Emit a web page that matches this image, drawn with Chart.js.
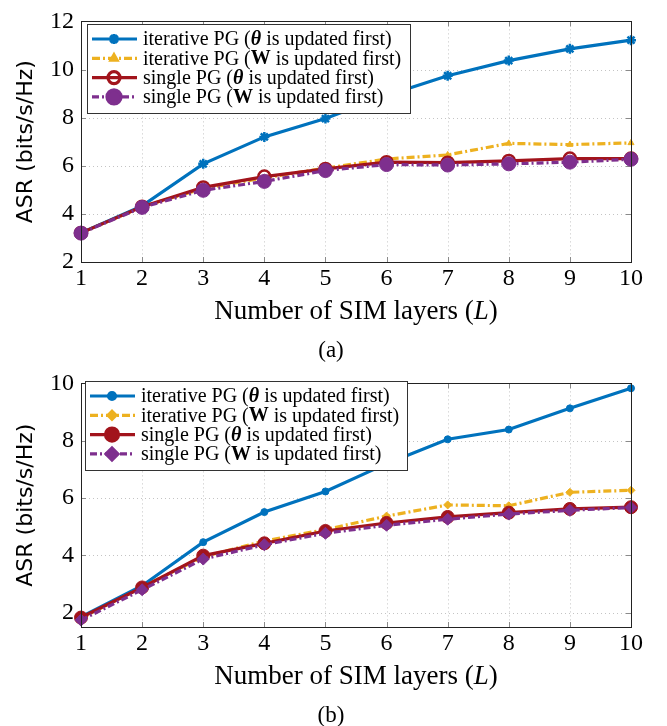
<!DOCTYPE html>
<html>
<head>
<meta charset="utf-8">
<script src="https://cdn.jsdelivr.net/npm/chart.js@4"></script>
<style>
  body { margin: 0; background: #fff; width: 667px; height: 726px; overflow: hidden; }
  .panel { position: absolute; left: 0; }
</style>
</head>
<body>
<div class="panel" style="top:0"><canvas id="chartA" width="667" height="362"></canvas></div>
<div class="panel" style="top:362px"><canvas id="chartB" width="667" height="364"></canvas></div>
<script>
// Data
const layers = ['1', '2', '3', '4', '5', '6', '7', '8', '9', '10'];
const seriesNames = [
  'iterative PG (θ is updated first)',
  'iterative PG (W is updated first)',
  'single PG (θ is updated first)',
  'single PG (W is updated first)'
];

// (a)
const yTicksA = [2, 4, 6, 8, 10, 12];
const iterThetaA = [3.21, 4.33, 6.08, 7.2, 7.96, 8.92, 9.74, 10.37, 10.86, 11.22];
const iterWA = [3.21, 4.3, 5.05, 5.5, 5.9, 6.28, 6.45, 6.93, 6.88, 6.95];
const singleThetaA = [3.21, 4.3, 5.1, 5.55, 5.87, 6.15, 6.13, 6.2, 6.3, 6.3];
const singleWA = [3.2, 4.27, 4.98, 5.35, 5.8, 6.05, 6.03, 6.08, 6.15, 6.27];

// (b)
const yTicksB = [2, 4, 6, 8, 10];
const iterThetaB = [1.85, 2.94, 4.46, 5.51, 6.23, 7.2, 8.05, 8.39, 9.13, 9.83];
const iterWB = [1.8, 2.9, 3.95, 4.5, 4.9, 5.37, 5.76, 5.73, 6.2, 6.27];
const singleThetaB = [1.83, 2.88, 3.99, 4.42, 4.85, 5.13, 5.34, 5.49, 5.62, 5.68];
const singleWB = [1.74, 2.8, 3.87, 4.37, 4.77, 5.05, 5.26, 5.44, 5.57, 5.67];

const colors = ['#0072BD', '#EDB120', '#A2141C', '#7E2F8E'];
const dashes = [[], [8, 3, 2, 3], [], [7, 3, 2, 3]];
const drawOrder = [2, 3, 1, 0];

const SERIF = '"Liberation Serif", "Times New Roman", serif';

const markersA = [
  { style: 'star', r: 5, bw: 2.5, fill: true },
  { style: 'triangle', r: 3.5, bw: 1, fill: true },
  { style: 'circle', r: 6, bw: 2.5, fill: false },
  { style: 'circle', r: 7, bw: 1, fill: true }
];
const markersB = [
  { style: 'circle', r: 3.5, bw: 1, fill: true },
  { style: 'rectRot', r: 4, bw: 1, fill: true },
  { style: 'circle', r: 6.5, bw: 1, fill: true },
  { style: 'rectRot', r: 6, bw: 1, fill: true }
];

function buildDatasets(series, markers) {
  return series.map((vals, i) => ({
    label: seriesNames[i],
    data: vals,
    borderColor: colors[i],
    backgroundColor: colors[i],
    borderWidth: 3.2,
    borderDash: dashes[i],
    pointStyle: markers[i].style,
    pointRadius: markers[i].r,
    pointBorderWidth: markers[i].bw,
    pointBackgroundColor: markers[i].fill ? colors[i] : 'rgba(0,0,0,0)',
    pointBorderColor: colors[i],
    order: drawOrder[i],
    tension: 0
  }));
}

// grid, box, legend, axis titles, caption
const figurePlugin = {
  id: 'figure',
  beforeDatasetsDraw(chart) {
    const { ctx, chartArea: a, scales: { x, y } } = chart;
    ctx.save();
    ctx.lineWidth = 1;
    ctx.strokeStyle = '#c4c4c4';
    ctx.setLineDash([1, 3]);
    y.ticks.forEach(t => {
      const py = Math.round(y.getPixelForValue(t.value)) + 0.5;
      ctx.beginPath(); ctx.moveTo(a.left, py); ctx.lineTo(a.right, py); ctx.stroke();
    });
    x.ticks.forEach((t, i) => {
      const px = Math.round(x.getPixelForTick(i)) + 0.5;
      ctx.beginPath(); ctx.moveTo(px, a.top); ctx.lineTo(px, a.bottom); ctx.stroke();
    });
    ctx.setLineDash([]);
    ctx.strokeStyle = '#8a8a8a';
    y.ticks.forEach(t => {
      const py = Math.round(y.getPixelForValue(t.value)) + 0.5;
      ctx.beginPath(); ctx.moveTo(a.left, py); ctx.lineTo(a.left + 5, py); ctx.stroke();
      ctx.beginPath(); ctx.moveTo(a.right - 5, py); ctx.lineTo(a.right, py); ctx.stroke();
    });
    x.ticks.forEach((t, i) => {
      const px = Math.round(x.getPixelForTick(i)) + 0.5;
      ctx.beginPath(); ctx.moveTo(px, a.bottom); ctx.lineTo(px, a.bottom - 5); ctx.stroke();
      ctx.beginPath(); ctx.moveTo(px, a.top); ctx.lineTo(px, a.top + 5); ctx.stroke();
    });
    ctx.restore();
  },
  afterDraw(chart, args, opts) {
    const { ctx, chartArea: a } = chart;
    ctx.save();
    // plot box
    ctx.strokeStyle = '#222';
    ctx.lineWidth = 1;
    ctx.strokeRect(Math.round(a.left) + 0.5, Math.round(a.top) + 0.5,
      Math.round(a.right - a.left), Math.round(a.bottom - a.top));

    // legend
    const lb = opts.legendBox;
    ctx.fillStyle = '#fff';
    ctx.fillRect(lb.left, lb.top, lb.width, lb.height);
    ctx.strokeStyle = '#333';
    ctx.strokeRect(lb.left + 0.5, lb.top + 0.5, lb.width, lb.height);
    chart.data.datasets.forEach((ds, i) => {
      const ry = lb.top + lb.firstRow + i * lb.rowGap;
      ctx.strokeStyle = ds.borderColor;
      ctx.lineWidth = ds.borderWidth;
      ctx.setLineDash(ds.borderDash);
      ctx.beginPath();
      ctx.moveTo(lb.left + 5, ry);
      ctx.lineTo(lb.left + 50, ry);
      ctx.stroke();
      ctx.setLineDash([]);
      ctx.fillStyle = ds.pointBackgroundColor;
      ctx.strokeStyle = ds.pointBorderColor;
      Chart.helpers.drawPoint(ctx, {
        pointStyle: ds.pointStyle, radius: ds.pointRadius,
        rotation: 0, borderWidth: ds.pointBorderWidth
      }, lb.left + 27, ry);
      // text with bold symbol
      let tx = lb.left + 56;
      ctx.fillStyle = '#000';
      ctx.textBaseline = 'middle';
      ctx.textAlign = 'left';
      ds.label.split(/(θ|W)/).forEach(part => {
        if (!part) return;
        if (part === 'θ') ctx.font = 'italic bold ' + opts.legendSize + 'px ' + SERIF;
        else if (part === 'W') ctx.font = 'bold ' + opts.legendSize + 'px ' + SERIF;
        else ctx.font = opts.legendSize + 'px ' + SERIF;
        ctx.fillText(part, tx, ry + 1);
        tx += ctx.measureText(part).width;
      });
    });

    // y title
    ctx.fillStyle = '#000';
    ctx.font = '22px "DejaVu Sans", sans-serif';
    ctx.textAlign = 'center';
    ctx.textBaseline = 'middle';
    ctx.save();
    ctx.translate(26, (a.top + a.bottom) / 2);
    ctx.rotate(-Math.PI / 2);
    ctx.fillText('ASR (bits/s/Hz)', 0, 0);
    ctx.restore();

    // x title with italic L
    const cx = (a.left + a.right) / 2;
    const ty = a.bottom + 50;
    const parts = [['Number of SIM layers (', ''], ['L', 'italic '], [')', '']];
    let total = 0;
    parts.forEach(p => { ctx.font = p[1] + '27px ' + SERIF; total += ctx.measureText(p[0]).width; });
    let px = cx - total / 2;
    ctx.textAlign = 'left';
    parts.forEach(p => {
      ctx.font = p[1] + '27px ' + SERIF;
      ctx.fillText(p[0], px, ty);
      px += ctx.measureText(p[0]).width;
    });

    // caption
    ctx.textAlign = 'center';
    ctx.font = '23px ' + SERIF;
    ctx.fillText(opts.caption, 331, a.bottom + 89);
    ctx.restore();
  }
};

function makeChart(id, series, markers, yTicks, yMin, yMax, caption, topPad, xHeight, legendBox) {
  return new Chart(document.getElementById(id), {
    type: 'line',
    data: { labels: layers, datasets: buildDatasets(series, markers) },
    options: {
      responsive: false,
      animation: false,
      layout: { padding: { top: topPad, right: 36, left: 0, bottom: 0 } },
      plugins: {
        legend: { display: false },
        tooltip: { enabled: false },
        figure: { caption: caption, legendBox: legendBox, legendSize: 20 }
      },
      scales: {
        x: {
          offset: false,
          grid: { display: false, drawTicks: false },
          border: { display: false },
          ticks: { color: '#000', font: { family: SERIF, size: 24 }, padding: 2, maxRotation: 0 },
          afterFit(s) { s.height = xHeight; }
        },
        y: {
          min: yMin,
          max: yMax,
          grid: { display: false, drawTicks: false },
          border: { display: false },
          ticks: { color: '#000', font: { family: SERIF, size: 24 }, padding: 7 },
          afterBuildTicks(s) { s.ticks = yTicks.map(v => ({ value: v })); },
          afterFit(s) { s.width = 81; }
        }
      }
    },
    plugins: [figurePlugin]
  });
}

makeChart('chartA', [iterThetaA, iterWA, singleThetaA, singleWA], markersA, yTicksA, 2, 12,
  '(a)', 14, 100, { left: 87, top: 24, width: 323, height: 89, firstRow: 15, rowGap: 19.3 });
makeChart('chartB', [iterThetaB, iterWB, singleThetaB, singleWB], markersB, yTicksB, 1.5, 10,
  '(b)', 17, 99, { left: 85, top: 19, width: 322, height: 89, firstRow: 15, rowGap: 19.3 });
</script>
</body>
</html>
